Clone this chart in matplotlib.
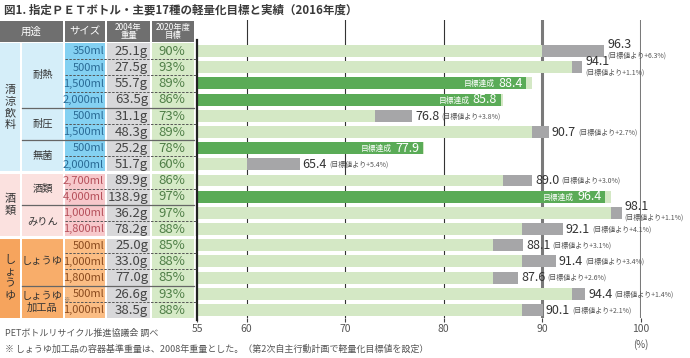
import matplotlib
matplotlib.use("Agg")
import matplotlib.pyplot as plt
from matplotlib.patches import Rectangle

plt.rcParams['font.family'] = ['Noto Sans CJK JP', 'DejaVu Sans']

# ---------------- data ----------------
title = "図1. 指定ＰＥＴボトル・主要17種の軽量化目標と実績（2016年度）"
header = ["用途", "サイズ", "2004年\n重量", "2020年度\n目標"]
groups = ["清涼飲料", "酒類", "しょうゆ"]
group_rows = [8, 4, 5]
subgroups = ["耐熱", "耐圧", "無菌", "酒類", "みりん", "しょうゆ", "しょうゆ\n加工品"]
subgroup_marks = ["", "", "", "", "", "", "※"]
subgroup_rows = [4, 2, 2, 2, 2, 3, 2]
sizes = ["350ml", "500ml", "1,500ml", "2,000ml", "500ml", "1,500ml", "500ml", "2,000ml",
         "2,700ml", "4,000ml", "1,000ml", "1,800ml",
         "500ml", "1,000ml", "1,800ml", "500ml", "1,000ml"]
weights_2004 = [25.1, 27.5, 55.7, 63.5, 31.1, 48.3, 25.2, 51.7,
                89.9, 138.9, 36.2, 78.2, 25.0, 33.0, 77.0, 26.6, 38.5]
targets = [90, 93, 89, 86, 73, 89, 78, 60, 86, 97, 97, 88, 85, 88, 85, 93, 88]
actual = [96.3, 94.1, 88.4, 85.8, 76.8, 90.7, 77.9, 65.4,
          89.0, 96.4, 98.1, 92.1, 88.1, 91.4, 87.6, 94.4, 90.1]
over_target = [6.3, 1.1, None, None, 3.8, 2.7, None, 5.4,
               3.0, None, 1.1, 4.1, 3.1, 3.4, 2.6, 1.4, 2.1]
note_below = [True, True, False, False, False, False, False, False,
              False, False, True, False, False, False, False, False, False]
xticks = [55, 60, 70, 80, 90, 100]
source = "PETボトルリサイクル推進協議会 調べ"
footnote = "※ しょうゆ加工品の容器基準重量は、2008年重量とした。（第2次自主行動計画で軽量化目標値を設定）"

# ---------------- style ----------------
W, H = 690, 358
TOP, ROW0, BOTTOM = 20, 43, 318          # pixel rows
AX_L, AX_R = 197.3, 640.5                # pixel for 55 and 100
n = len(sizes)
rowh = (BOTTOM - ROW0) / n
head = (ROW0 - TOP) / rowh

light_green = "#d4e8c5"
dark_green = "#5aab57"
grey = "#a6a6a8"
group_bg = ["#d5eef9", "#fbe1df", "#f6a45d"]
sub_bg = ["#d5eef9", "#fbe1df", "#f8ad6a"]
size_bg = ["#84d1f2", "#f7c8cb", "#fbbd84"]
size_fg = ["#2a6a95", "#b54f5a", "#8a4a1e"]
weight_bg = "#d8d8da"
target_bg = "#d6eac7"
target_fg = "#4f7f47"
header_bg = "#6f6f6f"

fig = plt.figure(figsize=(W / 100, H / 100), dpi=100)

# ---------------- bar chart ----------------
ax = fig.add_axes([AX_L / W, 1 - BOTTOM / H, (AX_R - AX_L) / W, (BOTTOM - TOP) / H])
ax.set_xlim(55, 100)
ax.set_ylim(n, -head)
for s in ax.spines.values():
    s.set_visible(False)
ax.set_yticks([])
ax.set_xticks(xticks)
ax.tick_params(axis='x', length=3, width=0.8, color='#444', labelsize=7.5,
               labelcolor='#555', pad=1)

for xv in xticks[1:4]:
    ax.axvline(xv, color='#333333', lw=0.8, zorder=0)
for xv in xticks[4:]:
    ax.axvline(xv, color='#7a7a7a', lw=2.2, zorder=0)
ax.plot([55, 55], [-0.2, n + 0.15], color='#222222', lw=1.6, clip_on=False, zorder=5)

ys = [i + 0.5 for i in range(n)]
bh = 0.74
base = [t - 55 for t in targets]
ax.barh(ys, base, left=55, height=bh, color=light_green, zorder=2)

for i, y in enumerate(ys):
    a, t = actual[i], targets[i]
    if a <= t:
        ax.barh(y, a - 55, left=55, height=bh, color=dark_green, zorder=3)
        num = ax.text(a - 0.35, y + 0.02, f"{a:.1f}", ha='right', va='center',
                      fontsize=9, color='white', zorder=4)
        ax.annotate("目標達成", xy=(0, 0.15), xycoords=num, xytext=(-2.5, 0),
                    textcoords='offset points', ha='right', va='bottom',
                    fontsize=5.6, color='white', zorder=4)
    else:
        ax.barh(y, a - t, left=t, height=bh, color=grey, zorder=3)
        note = f"(目標値より+{over_target[i]:.1f}%)"
        if note_below[i]:
            ax.text(a + 0.3, y - 0.38, f"{a:.1f}", ha='left', va='center',
                    fontsize=9, color='#333333', clip_on=False)
            ax.text(a + 0.3, y + 0.3, note, ha='left', va='center',
                    fontsize=5, color='#555555', clip_on=False)
        else:
            num = ax.text(a + 0.3, y + 0.02, f"{a:.1f}", ha='left', va='center',
                          fontsize=9, color='#333333', clip_on=False)
            ax.annotate(note, xy=(1, 0.18), xycoords=num, xytext=(1.5, 0),
                        textcoords='offset points', ha='left', va='bottom',
                        fontsize=5, color='#555555', annotation_clip=False)

ax.annotate("(%)", xy=(100, 0), xycoords=('data', 'axes fraction'), xytext=(0, -19),
            textcoords='offset points', ha='center', va='center', fontsize=7,
            color='#555555', annotation_clip=False)

# ---------------- table ----------------
tx = fig.add_axes([0, 1 - BOTTOM / H, AX_L / W, (BOTTOM - TOP) / H])
tx.set_xlim(0, AX_L)
tx.set_ylim(n, -head)
tx.axis('off')

cols = [(0, 63), (65, 105), (107, 150), (152, 194)]
for (x0, x1), lab in zip(cols, header):
    tx.add_patch(Rectangle((x0, -head + 0.06), x1 - x0, head - 0.12, color=header_bg, lw=0))
    fs = 7.5 if '\n' not in lab else 6
    tx.text((x0 + x1) / 2, -head / 2, lab, ha='center', va='center', color='white',
            fontsize=fs, linespacing=0.95)

row_group = []
for g, k in enumerate(group_rows):
    row_group += [g] * k

start = 0
for g, k in enumerate(group_rows):
    tx.add_patch(Rectangle((0, start), 20, k, color=group_bg[g], lw=0))
    tx.add_patch(Rectangle((22, start), 41, k, color=sub_bg[g], lw=0))
    tx.text(10, start + k / 2, "\n".join(groups[g]), ha='center', va='center',
            fontsize=8, color='#333333', linespacing=1.22)
    start += k

for i in range(n):
    g = row_group[i]
    tx.add_patch(Rectangle((65, i), 40, 1, color=size_bg[g], lw=0))
    tx.add_patch(Rectangle((107, i), 43, 1, color=weight_bg, lw=0))
    tx.add_patch(Rectangle((152, i), 42, 1, color=target_bg, lw=0))
    tx.text(104, i + 0.52, sizes[i], ha='right', va='center', fontsize=8,
            color=size_fg[g])
    tx.text(148, i + 0.52, f"{weights_2004[i]:.1f}g", ha='right', va='center',
            fontsize=9.5, color='#444444')
    tx.text(185, i + 0.52, f"{targets[i]}%", ha='right', va='center',
            fontsize=9.5, color=target_fg)

# row separators
start = 0
sub_bounds = []
for k in subgroup_rows:
    sub_bounds.append((start, start + k))
    start += k
group_bounds = []
start = 0
for k in group_rows:
    start += k
    group_bounds.append(start)

for (s0, s1), lab, mk in zip(sub_bounds, subgroups, subgroup_marks):
    t = tx.text(42.5, (s0 + s1) / 2, lab, ha='center', va='center', fontsize=7.4,
                color='#333333', linespacing=1.15)
    if mk:
        tx.annotate(mk, xy=(1, 0.42), xycoords=t, xytext=(0, 0),
                    textcoords='offset points', ha='left', va='bottom',
                    fontsize=4.5, color='#666666')
    for r in range(s0 + 1, s1):
        tx.plot([65, 196], [r, r], color='#555555', lw=0.7, ls=(0, (2.5, 1.5)))
    if s1 < n and s1 not in group_bounds:
        tx.plot([22, 194], [s1, s1], color='#666666', lw=0.9)
for b in group_bounds[:-1]:
    tx.plot([0, 194], [b, b], color='white', lw=2.2)

# ---------------- texts ----------------
fig.text(4 / W, 1 - 10 / H, title, ha='left', va='center', fontsize=8.3,
         fontweight='bold', color='#3a3a3a')
fig.text(5 / W, 1 - 333 / H, source, ha='left', va='center', fontsize=6.5, color='#555555')
fig.text(5 / W, 1 - 349 / H, footnote, ha='left', va='center', fontsize=6.5, color='#555555')

fig.savefig("out.png", dpi=100)
